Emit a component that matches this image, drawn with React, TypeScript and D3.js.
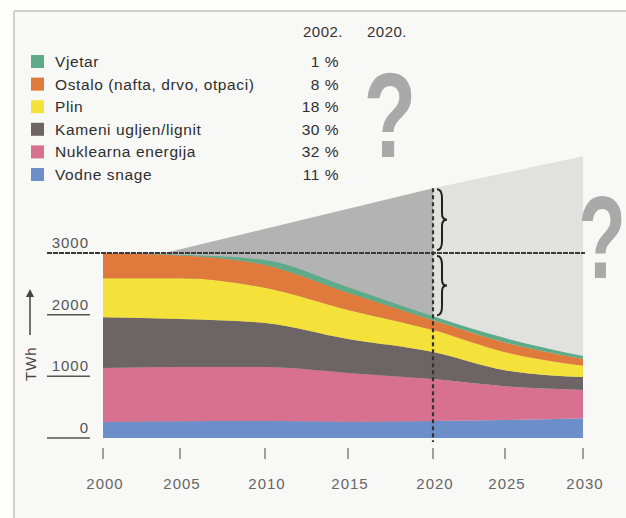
import React from 'react';
import * as d3 from 'd3';

// ---- data ----
const years = [2000, 2005, 2010, 2015, 2020, 2025, 2030];
const hydro = [260, 270, 275, 265, 275, 290, 320];
const nuclear = [875, 880, 875, 790, 680, 550, 460];
const coal = [825, 780, 715, 550, 440, 260, 210];
const gas = [630, 660, 570, 470, 355, 290, 180];
const other = [405, 370, 370, 280, 160, 160, 110];
const wind = [0, 10, 80, 90, 65, 70, 50];

const demandYearsA = [2000, 2004, 2020];
const demandA = [3000, 3000, 4050];
const demandYearsB = [2020, 2030];
const demandB = [4050, 4570];

const seriesKeys = ['hydro', 'nuclear', 'coal', 'gas', 'other', 'wind'];
const seriesColors = ['#6c8ec9', '#d8718f', '#6d6466', '#f4e13a', '#e0793c', '#5dab89'];

const legendLabels = ['Vjetar', 'Ostalo (nafta, drvo, otpaci)', 'Plin', 'Kameni ugljen/lignit', 'Nuklearna energija', 'Vodne snage'];
const legendShares = ['1 %', '8 %', '18 %', '30 %', '32 %', '11 %'];
const legendColors = ['#5dab89', '#e0793c', '#f4e13a', '#6d6466', '#d8718f', '#6c8ec9'];
const headerYears = ['2002.', '2020.'];

const yTicks = [0, 1000, 2000, 3000];
const xTicks = [2000, 2005, 2010, 2015, 2020, 2025, 2030];
const markYear = 2020;
const refLevel = 3000;

const FONT = '"Liberation Sans", Arial, Helvetica, sans-serif';

function brace(x: number, y1: number, y2: number, w: number) {
  const h = y2 - y1;
  const m = (y1 + y2) / 2;
  const hw = w / 2;
  return `M${x},${y1} Q${x + hw},${y1} ${x + hw},${y1 + h * 0.15} L${x + hw},${m - h * 0.1} Q${x + hw},${m} ${x + w},${m} Q${x + hw},${m} ${x + hw},${m + h * 0.1} L${x + hw},${y2 - h * 0.15} Q${x + hw},${y2} ${x},${y2}`;
}

export default function App() {
  const W = 626, H = 518;
  const x = d3.scaleLinear().domain(years).range([103, 180, 265, 348, 433, 505, 583]);
  const y = d3.scaleLinear().domain([0, 3000]).range([438, 253]);

  const table = years.map((yr, i) => ({
    year: yr, hydro: hydro[i], nuclear: nuclear[i], coal: coal[i], gas: gas[i], other: other[i], wind: wind[i],
  }));
  const stacked = d3.stack<any>().keys(seriesKeys)(table);
  const area = d3.area<any>()
    .x((d) => x(d.data.year))
    .y0((d) => y(d[0]))
    .y1((d) => y(d[1]))
    .curve(d3.curveMonotoneX);

  const demandArea = d3.area<[number, number]>()
    .x((d) => x(d[0]))
    .y0(y(0))
    .y1((d) => y(d[1]))
    .curve(d3.curveLinear);
  const dA = demandYearsA.map((yr, i) => [yr, demandA[i]] as [number, number]);
  const dB = demandYearsB.map((yr, i) => [yr, demandB[i]] as [number, number]);

  const xm = x(markYear);
  const demandAtMark = demandA[demandA.length - 1];
  const iMark = years.indexOf(markYear);
  const totalAtMark = stacked[stacked.length - 1][iMark][1];

  const rowY = (i: number) => 62 + i * 22.6;

  return (
    <svg width={W} height={H} style={{ position: 'absolute', left: 0, top: 0, display: 'block' }} fontFamily={FONT}>
      <rect x={0} y={0} width={W} height={H} fill="#fdfdfc" />
      <rect x={14} y={11} width={W} height={H} fill="#f8f8f6" />
      <line x1={14} y1={11} x2={W} y2={11} stroke="#cfcfcf" strokeWidth={2} />
      <line x1={14} y1={11} x2={14} y2={H} stroke="#cfcfcf" strokeWidth={2} />

      {/* legend */}
      {headerYears.map((t, i) => (
        <text key={t} x={i === 0 ? 343 : 367} y={37} textAnchor={i === 0 ? 'end' : 'start'} fontSize={15} fill="#333" letterSpacing={0.5}>{t}</text>
      ))}
      {legendLabels.map((lab, i) => (
        <g key={lab}>
          <rect x={31} y={rowY(i) - 7} width={13} height={13} fill={legendColors[i]} />
          <text x={55} y={rowY(i) + 5} fontSize={15.5} fill="#2e2e2e" letterSpacing={0.6}>{lab}</text>
          <text x={339} y={rowY(i) + 5} fontSize={15.5} fill="#2e2e2e" textAnchor="end" letterSpacing={0.5}>{legendShares[i]}</text>
        </g>
      ))}
      <text x={390} y={157} textAnchor="middle" fontSize={120} fontWeight="bold" fill="#a9a9a9" transform="translate(390,0) scale(0.72,1) translate(-390,0)">?</text>

      {/* demand gap areas */}
      <path d={demandArea(dA) || ''} fill="#b3b3b3" />
      <path d={demandArea(dB) || ''} fill="#e1e1e0" />

      {/* stacked areas */}
      {stacked.map((s, i) => (
        <path key={seriesKeys[i]} d={area(s as any) || ''} fill={seriesColors[i]} />
      ))}

      {/* reference line at 3000 */}
      <line x1={47} x2={585} y1={y(refLevel)} y2={y(refLevel)} stroke="#3a3a3a" strokeWidth={2.2} strokeDasharray="5,1" />

      {/* 2020 marker */}
      <line x1={xm} x2={xm} y1={y(demandAtMark)} y2={442} stroke="#333" strokeWidth={2.2} strokeDasharray="4,3" />
      <path d={brace(xm + 4, y(demandAtMark) + 1, y(refLevel) - 3, 10)} fill="none" stroke="#222" strokeWidth={2} />
      <path d={brace(xm + 4, y(refLevel) + 3, y(totalAtMark) - 1, 10)} fill="none" stroke="#222" strokeWidth={2} />

      <text x={602} y={278} textAnchor="middle" fontSize={78} fontWeight="bold" fill="#a9a9a9" transform="translate(0,278) scale(1,1.5) translate(0,-278)">?</text>

      {/* y axis */}
      {yTicks.map((t) => (
        <g key={t}>
          <text x={89} y={y(t) - 5} textAnchor="end" fontSize={15} fill="#555" letterSpacing={1}>{t}</text>
          {t !== refLevel && <line x1={47} x2={90} y1={y(t)} y2={y(t)} stroke="#555" strokeWidth={1.5} />}
        </g>
      ))}
      <g transform="translate(36,381) rotate(-90)">
        <text x={0} y={0} fontSize={15} fill="#444" letterSpacing={1}>TWh</text>
        <line x1={46} x2={86} y1={-6} y2={-6} stroke="#444" strokeWidth={1.5} />
        <path d="M92,-6 L84,-10 L84,-2 Z" fill="#444" />
      </g>

      {/* x axis */}
      {xTicks.map((t) => (
        <g key={t}>
          <line x1={x(t)} x2={x(t)} y1={448} y2={459} stroke="#888" strokeWidth={1.6} />
          <text x={x(t) + 2} y={489} textAnchor="middle" fontSize={15} fill="#666" letterSpacing={1}>{t}</text>
        </g>
      ))}
    </svg>
  );
}
